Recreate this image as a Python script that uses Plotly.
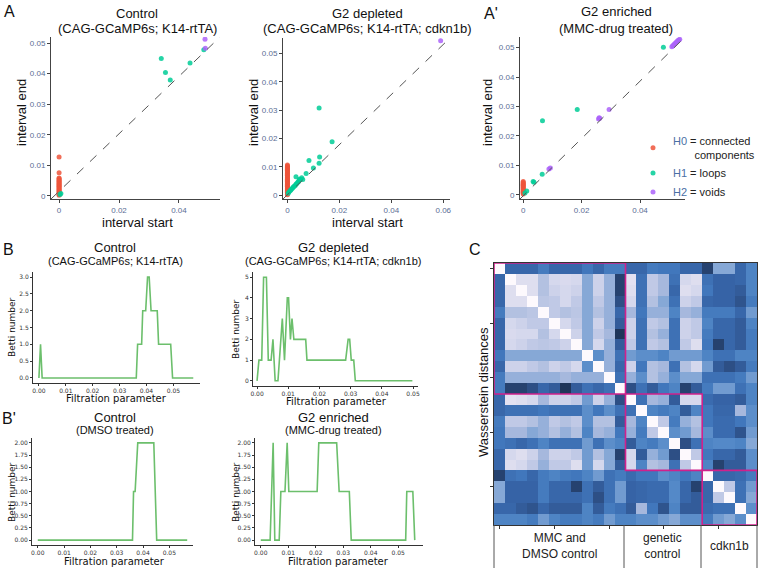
import plotly.graph_objects as go

W, H = 762, 568

# ---------------- data ----------------
# A: persistence diagrams (birth, death)
ctrl_h0_y = [0.0127, 0.0076, 0.0059, 0.0056, 0.0053, 0.005, 0.0047, 0.0044, 0.0041, 0.0038,
             0.0035, 0.0032, 0.0029, 0.0026, 0.0023, 0.002, 0.0017, 0.0014, 0.0011, 0.0008, 0.0005, 0.0002]
ctrl_h1_x = [0.0003, 0.0006, 0.0341, 0.0355, 0.0371, 0.0437, 0.0483]
ctrl_h1_y = [0.0005, 0.0008, 0.045, 0.0404, 0.0379, 0.0435, 0.0478]
ctrl_h2_x = [0.0487, 0.0488]
ctrl_h2_y = [0.0513, 0.0483]

dep_h0_y = [0.0106, 0.0103, 0.01, 0.0097, 0.0094, 0.0091, 0.0088, 0.0085, 0.0082, 0.0079, 0.0076,
            0.0073, 0.007, 0.0067, 0.0064, 0.0061, 0.0058, 0.0055, 0.0052, 0.0049, 0.0046, 0.0043,
            0.004, 0.0037, 0.0034, 0.0031, 0.0028, 0.0025, 0.0022, 0.0019, 0.0016, 0.0013, 0.001,
            0.0007, 0.0004, 0.0001]
dep_h1_x = [0.0003, 0.0006, 0.001, 0.0013, 0.0016, 0.002, 0.0023, 0.0026, 0.003, 0.0033, 0.0036,
            0.004, 0.0043, 0.0046, 0.005, 0.0033, 0.0046, 0.0055, 0.0059, 0.0072, 0.0083, 0.01,
            0.0122, 0.0124, 0.0172, 0.0122]
dep_h1_y = [0.0006, 0.0011, 0.0015, 0.0018, 0.0021, 0.0025, 0.0028, 0.0031, 0.0034, 0.0038, 0.0041,
            0.0045, 0.0048, 0.0052, 0.0055, 0.0065, 0.0056, 0.0061, 0.0055, 0.0076, 0.0122, 0.0096,
            0.0112, 0.0134, 0.0188, 0.0308]
dep_h2_x = [0.059]
dep_h2_y = [0.0545]

enr_h0_y = [0.0045, 0.0042, 0.0039, 0.0036, 0.0033, 0.003, 0.0027, 0.0024, 0.0021, 0.0018,
            0.0015, 0.0012, 0.0009, 0.0006, 0.0003]
enr_h1_x = [0.0006, 0.0012, 0.0034, 0.0037, 0.0065, 0.0066, 0.0185, 0.048]
enr_h1_y = [0.0006, 0.0013, 0.0045, 0.0043, 0.007, 0.0252, 0.029, 0.0501]
enr_h2_x = [0.0088, 0.0093, 0.0258, 0.026, 0.0262, 0.0294, 0.0509, 0.0512, 0.0515, 0.0518,
            0.0521, 0.0524, 0.0527, 0.053, 0.0533, 0.0536]
enr_h2_y = [0.0088, 0.0091, 0.0258, 0.0262, 0.026, 0.029, 0.0503, 0.0506, 0.0509, 0.0512,
            0.0515, 0.0518, 0.0521, 0.0524, 0.0526, 0.0528]

# B / B': Betti curves
b_ctrl_x = [0, 0.0006, 0.0012, 0.0362, 0.0367, 0.0382, 0.0386, 0.0397, 0.0404, 0.041, 0.0417,
            0.044, 0.0445, 0.049, 0.0497, 0.0574]
b_ctrl_y = [0, 1, 0, 0, 1, 1, 2, 2, 3, 3, 2, 2, 1, 1, 0, 0]
b_dep_x = [0, 0.0006, 0.0015, 0.0021, 0.003, 0.0036, 0.0045, 0.0051, 0.0058, 0.0067, 0.0081,
           0.0088, 0.0097, 0.0101, 0.0107, 0.0112, 0.0118, 0.0156, 0.016, 0.0284, 0.0292, 0.0297,
           0.0302, 0.031, 0.0315, 0.0498]
b_dep_y = [0, 1, 1, 5, 5, 1, 1, 2, 0, 0, 3, 1, 4, 4, 2, 3, 2, 2, 1, 1, 2, 2, 1, 1, 0, 0]
b_dmso_x = [0, 0.036, 0.0364, 0.037, 0.038, 0.0441, 0.0452, 0.0568]
b_dmso_y = [0, 0, 1, 1, 2, 2, 0, 0]
b_mmc_x = [0, 0.0034, 0.0045, 0.0051, 0.0067, 0.0073, 0.0088, 0.0096, 0.0102, 0.0205, 0.0211,
           0.0276, 0.0285, 0.0322, 0.0329, 0.0527, 0.0531, 0.0553, 0.056]
b_mmc_y = [0, 0, 2, 0, 0, 1, 1, 2, 1, 1, 2, 2, 1, 1, 0, 0, 1, 1, 0]

# C: Wasserstein distance matrix (relative shade 0..1)
wass = [
    [0, .8, .8, .8, .7, .8, .8, .8, .72, .8, .7, .7, .8, .8, .7, .72, .72, .8, .8, .95, .5, .5, .8, .65],
    [.8, 0, .15, .15, .35, .2, .18, .2, .5, .25, .45, .95, .12, .75, .3, .4, .75, .2, .15, .75, .82, .82, .8, .65],
    [.8, .15, 0, .15, .35, .25, .2, .25, .5, .25, .45, .95, .15, .75, .3, .4, .8, .15, .2, .72, .82, .82, .85, .65],
    [.8, .15, .15, 0, .32, .3, .2, .3, .5, .3, .45, .9, .2, .75, .35, .5, .75, .25, .3, .8, .82, .82, .88, .7],
    [.7, .35, .35, .32, 0, .3, .35, .32, .5, .35, .45, .8, .4, .72, .45, .45, .65, .4, .45, .7, .7, .7, .8, .55],
    [.8, .2, .25, .3, .3, 0, .2, .3, .5, .25, .45, .85, .25, .75, .3, .35, .75, .25, .3, .65, .8, .8, .85, .65],
    [.8, .18, .2, .2, .35, .2, 0, .25, .5, .3, .4, 1.0, .25, .75, .35, .45, .75, .25, .3, .7, .8, .8, .85, .7],
    [.8, .2, .25, .3, .32, .3, .25, 0, .5, .2, .45, .85, .3, .75, .3, .35, .75, .3, .15, .72, .95, .8, .85, .7],
    [.72, .5, .5, .5, .5, .5, .5, .5, 0, .6, .45, .75, .55, .6, .6, .65, .55, .55, .55, .65, .75, .75, .65, .65],
    [.8, .25, .25, .3, .35, .25, .3, .2, .6, 0, .45, .8, .25, .72, .35, .4, .75, .35, .2, .55, .85, .9, .85, .7],
    [.7, .45, .45, .45, .45, .45, .4, .45, .45, .45, 0, .75, .45, .6, .35, .45, .6, .5, .5, .75, .75, .75, .7, .55],
    [.7, .95, .95, .9, .8, .85, 1.0, .85, .75, .8, .75, 0, .9, .75, .85, .72, .65, .95, .85, .7, .55, .55, .75, .65],
    [.8, .12, .15, .2, .4, .25, .25, .3, .55, .25, .45, .9, 0, .75, .4, .45, .85, .2, .2, .78, .82, .82, .85, .65],
    [.8, .75, .75, .75, .72, .75, .75, .75, .6, .72, .6, .75, .75, 0, .65, .7, .65, .85, .65, .72, .8, .8, .4, .6],
    [.7, .3, .3, .35, .45, .3, .35, .3, .6, .35, .35, .85, .4, .65, 0, .3, .7, .45, .35, .72, .78, .78, .72, .6],
    [.72, .4, .4, .5, .45, .35, .45, .35, .65, .4, .45, .72, .45, .7, .3, 0, .6, .55, .4, .6, .78, .78, .88, .55],
    [.72, .75, .8, .75, .65, .75, .75, .75, .55, .75, .6, .65, .85, .65, .7, .6, 0, .9, .75, .65, .62, .62, .65, .5],
    [.8, .2, .15, .25, .4, .25, .25, .3, .55, .35, .5, .95, .2, .85, .45, .55, .9, 0, .3, .72, .8, .8, .85, .6],
    [.8, .15, .2, .3, .45, .3, .3, .15, .55, .2, .5, .85, .2, .65, .35, .4, .75, .3, 0, .65, .95, .85, .85, .6],
    [.95, .75, .72, .8, .7, .65, .7, .72, .65, .55, .75, .7, .78, .72, .72, .6, .65, .72, .65, 0, .8, .8, .78, .7],
    [.5, .82, .82, .82, .7, .8, .8, .95, .75, .85, .75, .55, .82, .8, .78, .78, .62, .8, .95, .8, 0, .3, .75, .55],
    [.5, .82, .82, .82, .7, .8, .8, .8, .75, .9, .75, .55, .82, .8, .78, .78, .62, .8, .85, .8, .3, 0, .75, .5],
    [.8, .8, .85, .88, .8, .85, .85, .85, .65, .85, .7, .75, .85, .4, .72, .88, .65, .85, .85, .78, .75, .75, 0, .6],
    [.65, .65, .65, .7, .55, .65, .7, .7, .65, .7, .55, .65, .65, .6, .6, .55, .5, .6, .6, .7, .55, .5, .6, 0],
]
group_names = ["MMC and<br>DMSO control", "genetic<br>control", "cdkn1b"]
group_sizes = [12, 7, 5]

# ---------------- styling helpers ----------------
RED, GREEN, PURPLE = "#EF553B", "#00CC96", "#AB63FA"
LINE_GREEN = "#6cbf6c"
SANS = "Liberation Sans, Arial, sans-serif"
MPL = "DejaVu Sans, sans-serif"


def dom_x(a, b):
    return [a / W, b / W]


def dom_y(top, bottom):
    return [1 - bottom / H, 1 - top / H]


def px(x):
    return x / W


def py(y):
    return 1 - y / H


fig = go.Figure()

# --- A panels ---
diagrams = [
    (ctrl_h0_y, ctrl_h1_x, ctrl_h1_y, ctrl_h2_x, ctrl_h2_y),
    (dep_h0_y, dep_h1_x, dep_h1_y, dep_h2_x, dep_h2_y),
    (enr_h0_y, enr_h1_x, enr_h1_y, enr_h2_x, enr_h2_y),
]
legend_names = [
    "<span style='color:#4a6fa5'>H0</span> = connected<br>" + "&nbsp;" * 7 + "components",
    "<span style='color:#4a6fa5'>H1</span> = loops",
    "<span style='color:#4a6fa5'>H2</span> = voids",
]
for i, (h0y, h1x, h1y, h2x, h2y) in enumerate(diagrams):
    ax = "" if i == 0 else str(i + 1)
    show = i == 2
    for name, xs, ys, col in [
        (legend_names[0], [0] * len(h0y), h0y, RED),
        (legend_names[1], h1x, h1y, GREEN),
        (legend_names[2], h2x, h2y, PURPLE),
    ]:
        fig.add_trace(go.Scatter(x=xs, y=ys, mode="markers", name=name, showlegend=show,
                                 marker=dict(color=col, size=5, opacity=0.85),
                                 xaxis="x" + ax, yaxis="y" + ax))
    # dashed diagonal
    fig.add_shape(type="line", xref=f"x{ax} domain", yref=f"y{ax} domain",
                  x0=0, y0=0, x1=1, y1=1, line=dict(color="#555", width=1, dash="dash"))

# --- B panels ---
betti = [(b_ctrl_x, b_ctrl_y, "4"), (b_dep_x, b_dep_y, "5"),
         (b_dmso_x, b_dmso_y, "6"), (b_mmc_x, b_mmc_y, "7")]
for xs, ys, ax in betti:
    fig.add_trace(go.Scatter(x=xs, y=ys, mode="lines", showlegend=False,
                             line=dict(color=LINE_GREEN, width=1.6),
                             xaxis="x" + ax, yaxis="y" + ax))

# --- C heatmap ---
scale = [[0, "#fdf9fd"], [0.12, "#e3e1f1"], [0.25, "#cdd2ea"], [0.4, "#a6b8dd"],
         [0.5, "#86a8d6"], [0.62, "#5489c8"], [0.72, "#4177bc"], [0.82, "#3663a6"],
         [0.9, "#2d4f85"], [1, "#1f3559"]]
fig.add_trace(go.Heatmap(z=wass, colorscale=scale, zmin=0, zmax=1, showscale=False,
                         xaxis="x8", yaxis="y8"))

# magenta group boxes and table below
start = 0
for gname, n in zip(group_names, group_sizes):
    fig.add_shape(type="rect", xref="x8", yref="y8", x0=start - 0.5, x1=start + n - 0.5,
                  y0=start - 0.5, y1=start + n - 0.5, line=dict(color="#d0218c", width=1.6))
    start += n

edges = [494, 624, 701, 757]
for e in edges:
    fig.add_shape(type="line", xref="paper", yref="paper", x0=px(e), x1=px(e),
                  y0=py(525), y1=py(568), line=dict(color="#555", width=1))
for gname, (a, b) in zip(group_names, zip(edges[:-1], edges[1:])):
    fig.add_annotation(text=gname, x=px((a + b) / 2), y=py(546), xref="paper", yref="paper",
                       xanchor="center", yanchor="middle", showarrow=False,
                       font=dict(family=SANS, size=12, color="#222"))

# ---------------- axes ----------------
a_tickfont = dict(family=SANS, size=8, color="#5a6d94")


def a_axes(xd, yd, xr, yr):
    xa = dict(domain=dom_x(*xd), range=xr, showline=True, linecolor="#444", linewidth=1,
              ticks="outside", ticklen=3, tickcolor="#444", tickfont=a_tickfont,
              showgrid=False, zeroline=False, tick0=0, dtick=0.02, automargin=False)
    ya = dict(domain=dom_y(*yd), range=yr, showline=True, linecolor="#444", linewidth=1,
              ticks="outside", ticklen=3, tickcolor="#444", tickfont=a_tickfont,
              showgrid=False, zeroline=False, tick0=0, dtick=0.01, automargin=False)
    return xa, ya


def b_axes(xd, yd, xr, yr, ydtick, yfmt):
    tf = dict(family=MPL, size=6, color="#333")
    xa = dict(domain=dom_x(*xd), range=xr, showline=True, linecolor="#333", linewidth=1,
              ticks="outside", ticklen=2, tickcolor="#333", tickfont=tf, showgrid=False,
              zeroline=False, tick0=0, dtick=0.01, tickformat=".2f", automargin=False)
    ya = dict(domain=dom_y(*yd), range=yr, showline=True, linecolor="#333", linewidth=1,
              ticks="outside", ticklen=2, tickcolor="#333", tickfont=tf, showgrid=False,
              zeroline=False, tick0=0, dtick=ydtick, tickformat=yfmt, automargin=False)
    return xa, ya


axes = {}
axes["xaxis"], axes["yaxis"] = a_axes((51, 220), (37, 199), [-0.0027, 0.0537], [-0.001, 0.052])
axes["xaxis2"], axes["yaxis2"] = a_axes((283, 450), (38, 199), [-0.0017, 0.0626], [-0.0014, 0.0555])
axes["xaxis3"], axes["yaxis3"] = a_axes((520, 685), (37, 199), [-0.0011, 0.0554], [-0.0014, 0.0536])
axes["xaxis4"], axes["yaxis4"] = b_axes((33, 200), (272, 383), [-0.0022, 0.0599], [-0.15, 3.15], 0.5, ".1f")
axes["xaxis5"], axes["yaxis5"] = b_axes((253, 418), (272, 386), [-0.0013, 0.0516], [-0.25, 5.25], 1, "d")
axes["xaxis6"], axes["yaxis6"] = b_axes((32, 193), (438, 545), [-0.0022, 0.059], [-0.1, 2.1], 0.25, ".2f")
axes["xaxis7"], axes["yaxis7"] = b_axes((255, 423), (438, 545), [-0.0021, 0.059], [-0.1, 2.1], 0.25, ".2f")
axes["xaxis8"] = dict(domain=dom_x(494, 757), range=[-0.5, 23.5], showline=True, mirror=True,
                      linecolor="#333", linewidth=1, ticks="outside", ticklen=3, tickcolor="#333",
                      tickvals=[0, 5, 10, 15, 20], showticklabels=False, showgrid=False,
                      zeroline=False, automargin=False)
axes["yaxis8"] = dict(domain=dom_y(263, 525), range=[23.5, -0.5], showline=True, mirror=True,
                      linecolor="#333", linewidth=1, ticks="outside", ticklen=3, tickcolor="#333",
                      tickvals=[0, 5, 10, 15, 20], showticklabels=False, showgrid=False,
                      zeroline=False, automargin=False)
for i in range(2, 9):
    axes[f"xaxis{i}"]["anchor"] = f"y{i}"
    axes[f"yaxis{i}"]["anchor"] = f"x{i}"

# ---------------- text ----------------
texts = [
    # panel letters
    ("A", 9, 11, 16, SANS, 0), ("A'", 491, 13, 16, SANS, 0), ("B", 8, 250, 16, SANS, 0),
    ("B'", 9, 418, 16, SANS, 0), ("C", 475, 249, 16, SANS, 0),
    # A titles
    ("Control", 137, 13, 13, SANS, 0), ("(CAG-GCaMP6s; K14-rtTA)", 137, 29, 13, SANS, 0),
    ("G2 depleted", 367, 13, 13, SANS, 0), ("(CAG-GCaMP6s; K14-rtTA; cdkn1b)", 367, 29, 13, SANS, 0),
    ("G2 enriched", 616, 12, 13, SANS, 0), ("(MMC-drug treated)", 616, 28, 13, SANS, 0),
    ("interval end", 21, 113, 13, SANS, -90), ("interval end", 253, 113, 13, SANS, -90),
    ("interval end", 487, 113, 13, SANS, -90),
    ("interval start", 137, 222, 13, SANS, 0), ("interval start", 367, 222, 13, SANS, 0),
    # B titles
    ("Control", 115, 247, 13, SANS, 0), ("(CAG-GCaMP6s; K14-rtTA)", 115, 261, 11, SANS, 0),
    ("G2 depleted", 333, 247, 13, SANS, 0), ("(CAG-GCaMP6s; K14-rtTA; cdkn1b)", 333, 261, 11, SANS, 0),
    ("Control", 115, 417, 13, SANS, 0), ("(DMSO treated)", 115, 430, 11, SANS, 0),
    ("G2 enriched", 333, 417, 13, SANS, 0), ("(MMC-drug treated)", 333, 430, 11, SANS, 0),
    ("Betti number", 12, 327, 9, MPL, -90), ("Betti number", 236, 329, 9, MPL, -90),
    ("Betti number", 12, 492, 9, MPL, -90), ("Betti number", 236, 492, 9, MPL, -90),
    ("Filtration parameter", 116, 398, 10, MPL, 0), ("Filtration parameter", 336, 402, 10, MPL, 0),
    ("Filtration parameter", 114, 561, 10, MPL, 0), ("Filtration parameter", 338, 561, 10, MPL, 0),
    # C
    ("Wasserstein distances", 483, 392, 13, SANS, -90),
]
for t, x, y, s, fam, ang in texts:
    fig.add_annotation(text=t, x=px(x), y=py(y), xref="paper", yref="paper", showarrow=False,
                       textangle=ang, xanchor="center", yanchor="middle",
                       font=dict(family=fam, size=s, color="#111"))

fig.update_layout(
    width=W, height=H, margin=dict(l=0, r=0, t=0, b=0, pad=0, autoexpand=False), autosize=False,
    paper_bgcolor="white", plot_bgcolor="white",
    font=dict(family=SANS, color="#222"),
    legend=dict(x=px(633), y=py(127), xanchor="left", yanchor="top", bgcolor="rgba(0,0,0,0)",
                font=dict(family=SANS, size=11, color="#222"), itemsizing="trace",
                tracegroupgap=0, itemwidth=30),
    **axes,
)

fig.write_html("out.html", config={"responsive": False, "displayModeBar": False},
               post_script="document.body.style.margin='0';document.body.style.overflow='hidden';")
